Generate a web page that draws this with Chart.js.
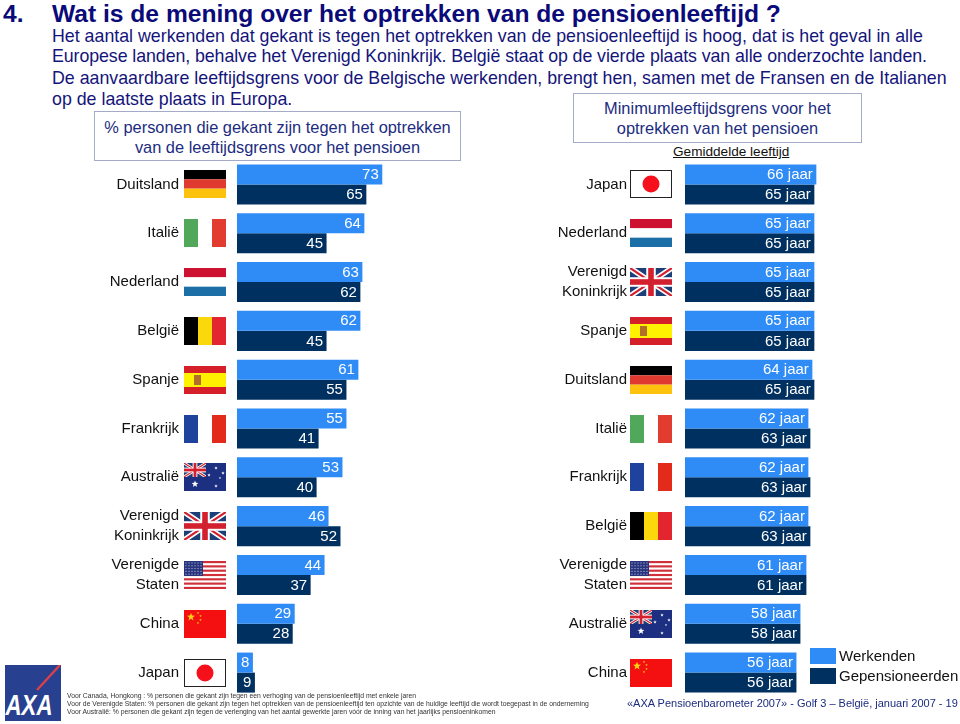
<!DOCTYPE html>
<html lang="nl">
<head>
<meta charset="utf-8">
<title>Pensioenleeftijd</title>
<script src="https://cdn.jsdelivr.net/npm/chart.js@4"></script>
<style>
  html, body { margin: 0; padding: 0; background: #fff; }
  body { position: relative; width: 960px; height: 724px; overflow: hidden; font-family: "Liberation Sans", Arial, sans-serif; }
  canvas { position: absolute; }
  .line { position: absolute; white-space: nowrap; color: #14147a; font-size: 17.8px; line-height: 20px; }
  .title { font-weight: bold; font-size: 24.6px; line-height: 28px; color: #0a0a78; }
  .box { position: absolute; box-sizing: border-box; border: 1px solid #a3abc9; background: #fff; color: #1c2c80; font-size: 16.4px; line-height: 20px; text-align: center; }
  .note { position: absolute; left: 67px; white-space: nowrap; font-size: 6.8px; line-height: 8px; color: #333; }
  .swatch { position: absolute; left: 810px; width: 26px; height: 16px; }
  .leg { position: absolute; left: 839px; font-size: 15px; line-height: 18px; color: #111; white-space: nowrap; }
</style>
</head>
<body>
<div class="line title" style="left:3px;top:0">4.</div>
<div class="line title" style="left:52px;top:0">Wat is de mening over het optrekken van de pensioenleeftijd ?</div>
<div class="line" style="left:52px;top:26px">Het aantal werkenden dat gekant is tegen het optrekken van de pensioenleeftijd is hoog, dat is het geval in alle</div>
<div class="line" style="left:52px;top:46px;letter-spacing:-0.08px">Europese landen, behalve het Verenigd Koninkrijk. België staat op de vierde plaats van alle onderzochte landen.</div>
<div class="line" style="left:52px;top:68px">De aanvaardbare leeftijdsgrens voor de Belgische werkenden, brengt hen, samen met de Fransen en de Italianen</div>
<div class="line" style="left:52px;top:89px">op de laatste plaats in Europa.</div>

<div class="box" style="left:94px;top:111px;width:367px;height:50px;padding-top:5px">% personen die gekant zijn tegen het optrekken<br>van de leeftijdsgrens voor het pensioen</div>
<div class="box" style="left:573px;top:93px;width:289px;height:50px;padding-top:4px">Minimumleeftijdsgrens voor het<br>optrekken van het pensioen</div>
<div class="line" style="left:673px;top:142px;font-size:13.6px;color:#111;text-decoration:underline">Gemiddelde leeftijd</div>

<canvas id="leftChart" width="436" height="537" style="left:0;top:160px"></canvas>
<canvas id="rightChart" width="394" height="537" style="left:490px;top:160px"></canvas>

<div class="swatch" style="top:648px;background:#2f8cf6"></div>
<div class="swatch" style="top:668px;background:#00305f"></div>
<div class="leg" style="top:647px">Werkenden</div>
<div class="leg" style="top:667px">Gepensioneerden</div>

<svg style="position:absolute;left:5px;top:665px" width="56" height="56" viewBox="0 0 56 56">
  <rect width="56" height="56" fill="#27408f"/>
  <path d="M55 0 L32 25" stroke="#d9404a" stroke-width="2.4" fill="none"/>
  <text x="24" y="50" text-anchor="middle" font-family="Liberation Sans" font-weight="bold" font-style="italic" font-size="29" textLength="47" lengthAdjust="spacingAndGlyphs" fill="#fff">AXA</text>
</svg>

<div class="note" style="top:692px">Voor Canada, Hongkong : % personen die gekant zijn tegen een verhoging van de pensioenleeftijd met enkele jaren</div>
<div class="note" style="top:700px">Voor de Verenigde Staten: % personen die gekant zijn tegen het optrekken van de pensioenleeftijd ten opzichte van de huidige leeftijd die wordt toegepast in de onderneming</div>
<div class="note" style="top:708px">Voor Australië: % personen die gekant zijn tegen de verlenging van het aantal gewerkte jaren vóór de inning van het jaarlijks pensioeninkomen</div>
<div class="line" style="left:627px;top:693px;font-size:11px;color:#1c2c80">«AXA Pensioenbarometer 2007» - Golf 3 – België, januari 2007 - 19</div>

<script>
// data
const leftCountries = ["Duitsland", "Italië", "Nederland", "België", "Spanje", "Frankrijk", "Australië", ["Verenigd", "Koninkrijk"], ["Verenigde", "Staten"], "China", "Japan"];
const leftWorkers = [73, 64, 63, 62, 61, 55, 53, 46, 44, 29, 8];
const leftRetired = [65, 45, 62, 45, 55, 41, 40, 52, 37, 28, 9];

const rightCountries = ["Japan", "Nederland", ["Verenigd", "Koninkrijk"], "Spanje", "Duitsland", "Italië", "Frankrijk", "België", ["Verenigde", "Staten"], "Australië", "China"];
const rightWorkers = [66, 65, 65, 65, 64, 62, 62, 62, 61, 58, 56];
const rightRetired = [65, 65, 65, 65, 65, 63, 63, 63, 61, 58, 56];

const seriesNames = ["Werkenden", "Gepensioneerden"];
const LIGHT = "#2f8cf6";
const DARK = "#00305f";

// flags, each one drawn in a 42x28 box
function stripesH(ctx, x, y, colors) {
  const h = 28 / colors.length;
  colors.forEach((c, i) => {
    ctx.fillStyle = c;
    ctx.fillRect(x, y + i * h, 42, h);
  });
}
function stripesV(ctx, x, y, colors) {
  const w = 42 / colors.length;
  colors.forEach((c, i) => {
    ctx.fillStyle = c;
    ctx.fillRect(x + i * w, y, w, 28);
  });
}
function star(ctx, cx, cy, r, color) {
  ctx.fillStyle = color;
  ctx.beginPath();
  for (let i = 0; i < 10; i++) {
    const a = -Math.PI / 2 + i * Math.PI / 5;
    const rr = i % 2 ? r * 0.42 : r;
    ctx.lineTo(cx + Math.cos(a) * rr, cy + Math.sin(a) * rr);
  }
  ctx.fill();
}
function unionJack(ctx, x, y, w, h) {
  ctx.save();
  ctx.beginPath();
  ctx.rect(x, y, w, h);
  ctx.clip();
  ctx.fillStyle = "#1c3f78";
  ctx.fillRect(x, y, w, h);
  const cross = (color, lw) => {
    ctx.strokeStyle = color;
    ctx.lineWidth = lw;
    ctx.beginPath();
    ctx.moveTo(x, y);
    ctx.lineTo(x + w, y + h);
    ctx.moveTo(x + w, y);
    ctx.lineTo(x, y + h);
    ctx.stroke();
  };
  cross("#fff", h * 0.2);
  cross("#d2202f", h * 0.08);
  ctx.fillStyle = "#fff";
  ctx.fillRect(x + w / 2 - h * 0.17, y, h * 0.34, h);
  ctx.fillRect(x, y + h / 2 - h * 0.17, w, h * 0.34);
  ctx.fillStyle = "#d2202f";
  ctx.fillRect(x + w / 2 - h * 0.1, y, h * 0.2, h);
  ctx.fillRect(x, y + h / 2 - h * 0.1, w, h * 0.2);
  ctx.restore();
}
function japan(ctx, x, y) {
  ctx.fillStyle = "#fff";
  ctx.fillRect(x, y, 42, 28);
  ctx.strokeStyle = "#222";
  ctx.lineWidth = 1;
  ctx.strokeRect(x + 0.5, y + 0.5, 41, 27);
  ctx.fillStyle = "#f5101c";
  ctx.beginPath();
  ctx.arc(x + 21, y + 14, 8.5, 0, Math.PI * 2);
  ctx.fill();
}
const flagDrawers = {
  "Duitsland": (ctx, x, y) => stripesH(ctx, x, y, ["#000", "#e03a30", "#fdc20e"]),
  "Italië": (ctx, x, y) => stripesV(ctx, x, y, ["#52a85a", "#fff", "#e23c30"]),
  "Nederland": (ctx, x, y) => stripesH(ctx, x, y, ["#cc1230", "#fff", "#1c6fa6"]),
  "België": (ctx, x, y) => stripesV(ctx, x, y, ["#000", "#fbd80c", "#e2252f"]),
  "Spanje": (ctx, x, y) => {
    stripesH(ctx, x, y, ["#d5202a", "#fff200", "#fff200", "#d5202a"]);
    ctx.fillStyle = "#b0702a";
    ctx.fillRect(x + 10, y + 9, 7, 10);
  },
  "Frankrijk": (ctx, x, y) => stripesV(ctx, x, y, ["#1f429c", "#fff", "#e22b1a"]),
  "Australië": (ctx, x, y) => {
    ctx.fillStyle = "#1c2f80";
    ctx.fillRect(x, y, 42, 28);
    unionJack(ctx, x, y, 22, 14);
    star(ctx, x + 11, y + 21, 3.6, "#fff");
    star(ctx, x + 32, y + 5, 1.8, "#fff");
    star(ctx, x + 25, y + 12, 1.8, "#fff");
    star(ctx, x + 39, y + 10, 1.8, "#fff");
    star(ctx, x + 32, y + 23, 1.8, "#fff");
    star(ctx, x + 36, y + 15, 1.2, "#fff");
  },
  "Verenigd Koninkrijk": (ctx, x, y) => unionJack(ctx, x, y, 42, 28),
  "Verenigde Staten": (ctx, x, y) => {
    for (let i = 0; i < 7; i++) {
      ctx.fillStyle = "#d0303a";
      ctx.fillRect(x, y + i * 4.31, 42, 2.15);
    }
    ctx.fillStyle = "#28357e";
    ctx.fillRect(x, y, 19, 15);
    ctx.fillStyle = "#c8cbe6";
    for (let r = 0; r < 5; r++) {
      for (let c = 0; c < 6; c++) {
        ctx.fillRect(x + 1.5 + c * 3, y + 1.5 + r * 2.8, 1, 1);
      }
    }
  },
  "China": (ctx, x, y) => {
    ctx.fillStyle = "#f40f10";
    ctx.fillRect(x, y, 42, 28);
    star(ctx, x + 7, y + 7, 4.2, "#fcd116");
    star(ctx, x + 14, y + 3, 1.3, "#fcd116");
    star(ctx, x + 16.5, y + 6, 1.3, "#fcd116");
    star(ctx, x + 16.5, y + 10, 1.3, "#fcd116");
    star(ctx, x + 14, y + 13, 1.3, "#fcd116");
  },
  "Japan": japan
};

// draws the flag of each category left of the bars, on the y scale
const flagPlugin = {
  id: "flags",
  afterDraw(chart, args, opts) {
    const { ctx, chartArea, scales } = chart;
    chart.data.labels.forEach((label, i) => {
      const name = Array.isArray(label) ? label.join(" ") : label;
      const yc = scales.y.getPixelForValue(i);
      flagDrawers[name](ctx, chartArea.left - opts.offset, Math.round(yc - 14));
    });
  }
};

// white value inside the end of each bar
const valuePlugin = {
  id: "values",
  afterDatasetsDraw(chart, args, opts) {
    const ctx = chart.ctx;
    ctx.save();
    ctx.font = "15px 'Liberation Sans'";
    ctx.fillStyle = "#fff";
    ctx.textAlign = "right";
    ctx.textBaseline = "middle";
    chart.data.datasets.forEach((ds, d) => {
      chart.getDatasetMeta(d).data.forEach((bar, i) => {
        ctx.fillText(ds.data[i] + opts.suffix, bar.x - 3.5, bar.y + 0.5);
      });
    });
    ctx.restore();
  }
};

function makeChart(id, labels, workers, retired, axisWidth, flagOffset, suffix) {
  return new Chart(document.getElementById(id), {
    type: "bar",
    data: {
      labels: labels,
      datasets: [
        { label: seriesNames[0], data: workers, backgroundColor: LIGHT },
        { label: seriesNames[1], data: retired, backgroundColor: DARK },
      ],
    },
    plugins: [flagPlugin, valuePlugin],
    options: {
      indexAxis: "y",
      responsive: false,
      animation: false,
      layout: { padding: 0 },
      scales: {
        x: { display: false, min: 0, max: 100 },
        y: {
          afterFit(scale) {
            scale.width = axisWidth;
            // no extra room above and below, the rows have to fill the canvas
            scale.paddingTop = 0;
            scale.paddingBottom = 0;
          },
          // invisible tick marks keep the labels clear of the flags
          grid: { color: "transparent", drawOnChartArea: false, tickLength: 58 },
          border: { display: false },
          ticks: {
            autoSkip: false,
            padding: 0,
            color: "#111",
            font: { family: "Liberation Sans", size: 15, lineHeight: 1.33 },
          },
        },
      },
      datasets: { bar: { categoryPercentage: 0.82, barPercentage: 1 } },
      plugins: {
        legend: { display: false },
        tooltip: { enabled: false },
        flags: { offset: flagOffset },
        values: { suffix: suffix },
      },
    },
  });
}

makeChart("leftChart", leftCountries, leftWorkers, leftRetired, 237, 53, "");
makeChart("rightChart", rightCountries, rightWorkers, rightRetired, 195, 55, " jaar");
</script>
</body>
</html>
